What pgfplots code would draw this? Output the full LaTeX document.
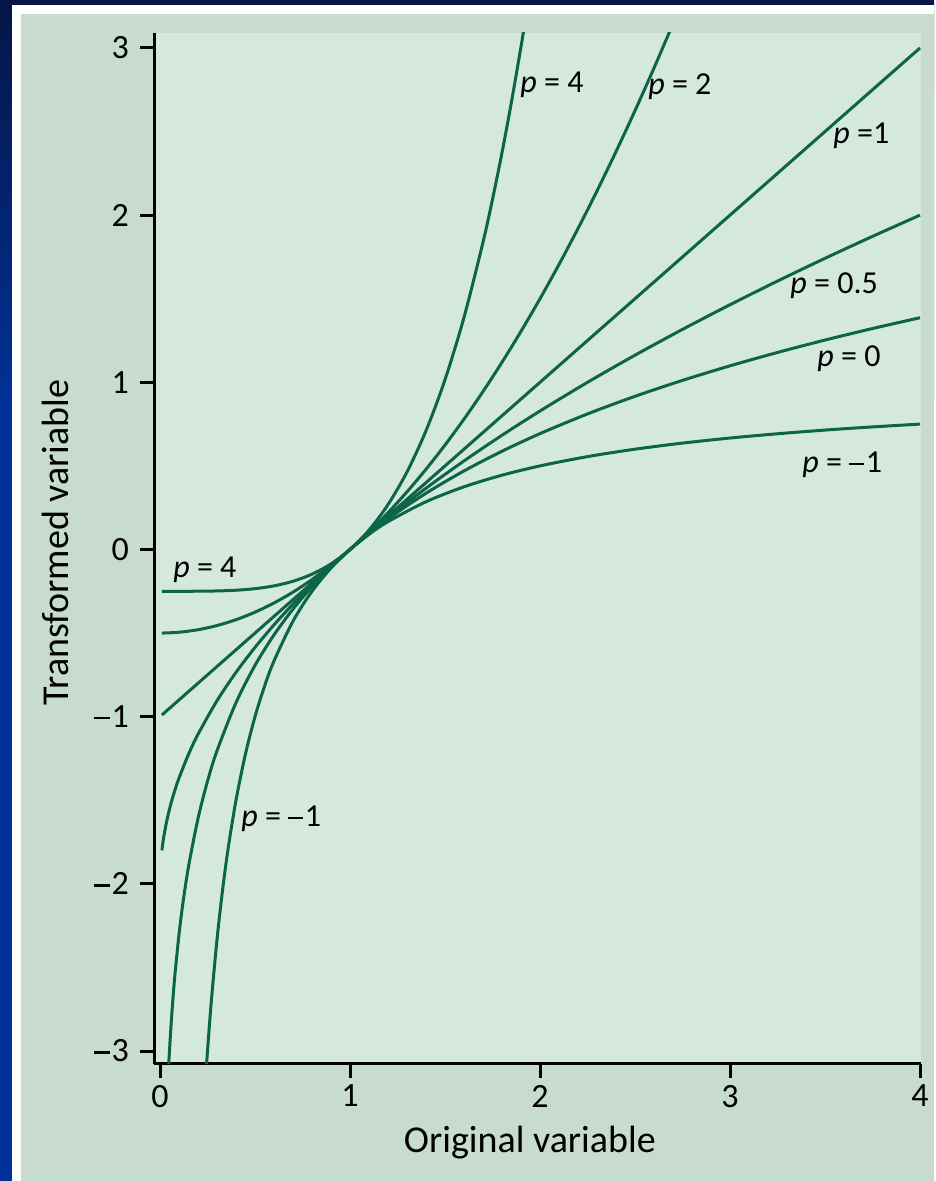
\documentclass[border=0pt]{standalone}
\usepackage{pgfplots}
\pgfplotsset{compat=1.18}
\usepackage{fontspec}
\setmainfont{Carlito}
\newcommand{\mn}{\raisebox{0.24em}{\rule{0.46em}{0.07em}}\kern0.06em}
\definecolor{navytop}{HTML}{061546}
\definecolor{navybot}{HTML}{003196}
\definecolor{panel}{HTML}{C7DCCF}
\definecolor{inner}{HTML}{D5E8DD}
\definecolor{curve}{HTML}{0B6546}
\begin{document}
\begin{tikzpicture}[x=0.5pt,y=0.5pt]
\fill[navybot] (0,0) rectangle (934,1181);
\shade[top color=navytop, bottom color=navybot] (0,781) rectangle (934,1181);
\fill[white] (12,0) rectangle (934,1176);
\fill[panel] (21,0) rectangle (934,1167);
\begin{axis}[
 at={(77pt,58.5pt)}, anchor=south west, scale only axis,
 width=383.5pt, height=515.5pt,
 xmin=-0.0316, xmax=4.0053, ymin=-3.0777, ymax=3.0897,
 axis x line=bottom, axis y line=left,
 axis line style={-, line width=1.5pt, black},
 axis background/.style={fill=inner},
 tick align=outside, major tick length=7pt,
 tick style={line width=1.5pt, black},
 xtick={0,1,2,3,4}, ytick={-3,-2,-1,0,1,2,3},
 xticklabels={0,1,2,3,4}, yticklabels={\mn3,\mn2,\mn1,0,1,2,3},
 ticklabel style={font=\fontsize{17}{20}\selectfont},
 yticklabel style={xshift=-2pt},
 xlabel={Original variable}, ylabel={Transformed variable},
 label style={font=\fontsize{19}{22}\selectfont},
 xlabel style={at={(axis description cs:0.49,-0.0863)}, anchor=base},
 ylabel style={at={(axis description cs:-0.1121,0.5058)}, anchor=base},
 every axis plot/.append style={color=curve, line width=1.5pt, mark=none},
 clip=true,
]
% p = 4
\addplot[smooth] coordinates {(0.01,-0.25) (0.1,-0.25) (0.2,-0.2496) (0.3,-0.2480) (0.4,-0.2436) (0.5,-0.2344) (0.6,-0.2176) (0.7,-0.1900) (0.8,-0.1476) (0.9,-0.0860) (1.0,0) (1.1,0.1160) (1.2,0.2684) (1.3,0.4640) (1.4,0.7104) (1.5,1.0156) (1.6,1.3884) (1.7,1.8380) (1.75,2.0947) (1.8,2.3744) (1.85,2.6784) (1.9,3.0080) (1.92,3.1474)};
% p = 2
\addplot[smooth] coordinates {(0.01,-0.5) (0.1,-0.495) (0.2,-0.48) (0.3,-0.455) (0.4,-0.42) (0.5,-0.375) (0.6,-0.32) (0.7,-0.255) (0.8,-0.18) (0.9,-0.095) (1.0,0) (1.1,0.105) (1.2,0.22) (1.3,0.345) (1.4,0.48) (1.5,0.625) (1.6,0.78) (1.7,0.945) (1.8,1.12) (1.9,1.305) (2.0,1.5) (2.1,1.705) (2.2,1.92) (2.3,2.145) (2.4,2.38) (2.5,2.625) (2.6,2.88) (2.7,3.145)};
% p = 1
\addplot[sharp plot] coordinates {(0.01,-0.99) (4,3)};
% p = 0.5
\addplot[smooth] coordinates {(0.01,-1.8) (0.02,-1.7172) (0.04,-1.6) (0.06,-1.5101) (0.08,-1.4343) (0.1,-1.3675) (0.15,-1.2254) (0.2,-1.1056) (0.3,-0.9046) (0.4,-0.7351) (0.5,-0.5858) (0.6,-0.4508) (0.7,-0.3267) (0.8,-0.2111) (0.9,-0.1026) (1.0,0) (1.2,0.1909) (1.4,0.3664) (1.6,0.5298) (1.8,0.6833) (2.0,0.8284) (2.25,1.0) (2.5,1.1623) (2.75,1.3166) (3.0,1.4641) (3.25,1.6056) (3.5,1.7417) (3.75,1.8730) (4.0,2.0)};
% p = 0
\addplot[smooth] coordinates {(0.045,-3.1011) (0.05,-2.9957) (0.06,-2.8134) (0.07,-2.6593) (0.08,-2.5257) (0.1,-2.3026) (0.12,-2.1203) (0.15,-1.8971) (0.2,-1.6094) (0.25,-1.3863) (0.3,-1.2040) (0.4,-0.9163) (0.5,-0.6931) (0.6,-0.5108) (0.7,-0.3567) (0.8,-0.2231) (0.9,-0.1054) (1.0,0) (1.2,0.1823) (1.4,0.3365) (1.6,0.4700) (1.8,0.5878) (2.0,0.6931) (2.25,0.8109) (2.5,0.9163) (2.75,1.0116) (3.0,1.0986) (3.25,1.1787) (3.5,1.2528) (3.75,1.3218) (4.0,1.3863)};
% p = -1
\addplot[smooth] coordinates {(0.24,-3.1667) (0.25,-3.0) (0.27,-2.7037) (0.3,-2.3333) (0.33,-2.0303) (0.36,-1.7778) (0.4,-1.5) (0.45,-1.2222) (0.5,-1.0) (0.55,-0.8182) (0.6,-0.6667) (0.7,-0.4286) (0.8,-0.25) (0.9,-0.1111) (1.0,0) (1.1,0.0909) (1.2,0.1667) (1.4,0.2857) (1.6,0.375) (1.8,0.4444) (2.0,0.5) (2.25,0.5556) (2.5,0.6) (2.75,0.6364) (3.0,0.6667) (3.25,0.6923) (3.5,0.7143) (3.75,0.7333) (4.0,0.75)};
\begin{scope}[every node/.style={anchor=base west, font=\fontsize{16}{19}\selectfont, inner sep=0pt}]
\node at (axis cs:1.895,2.731) {\textit{p} = 4};
\node at (axis cs:2.568,2.72) {\textit{p} = 2};
\node at (axis cs:3.542,2.431) {\textit{p} =1};
\node at (axis cs:3.316,1.534) {\textit{p} = 0.5};
\node at (axis cs:3.458,1.092) {\textit{p} = 0};
\node at (axis cs:3.379,0.458) {\textit{p} = \mn1};
\node at (axis cs:0.068,-0.165) {\textit{p} = 4};
\node at (axis cs:0.426,-1.660) {\textit{p} = \mn1};
\end{scope}
\end{axis}
\end{tikzpicture}
\end{document}
